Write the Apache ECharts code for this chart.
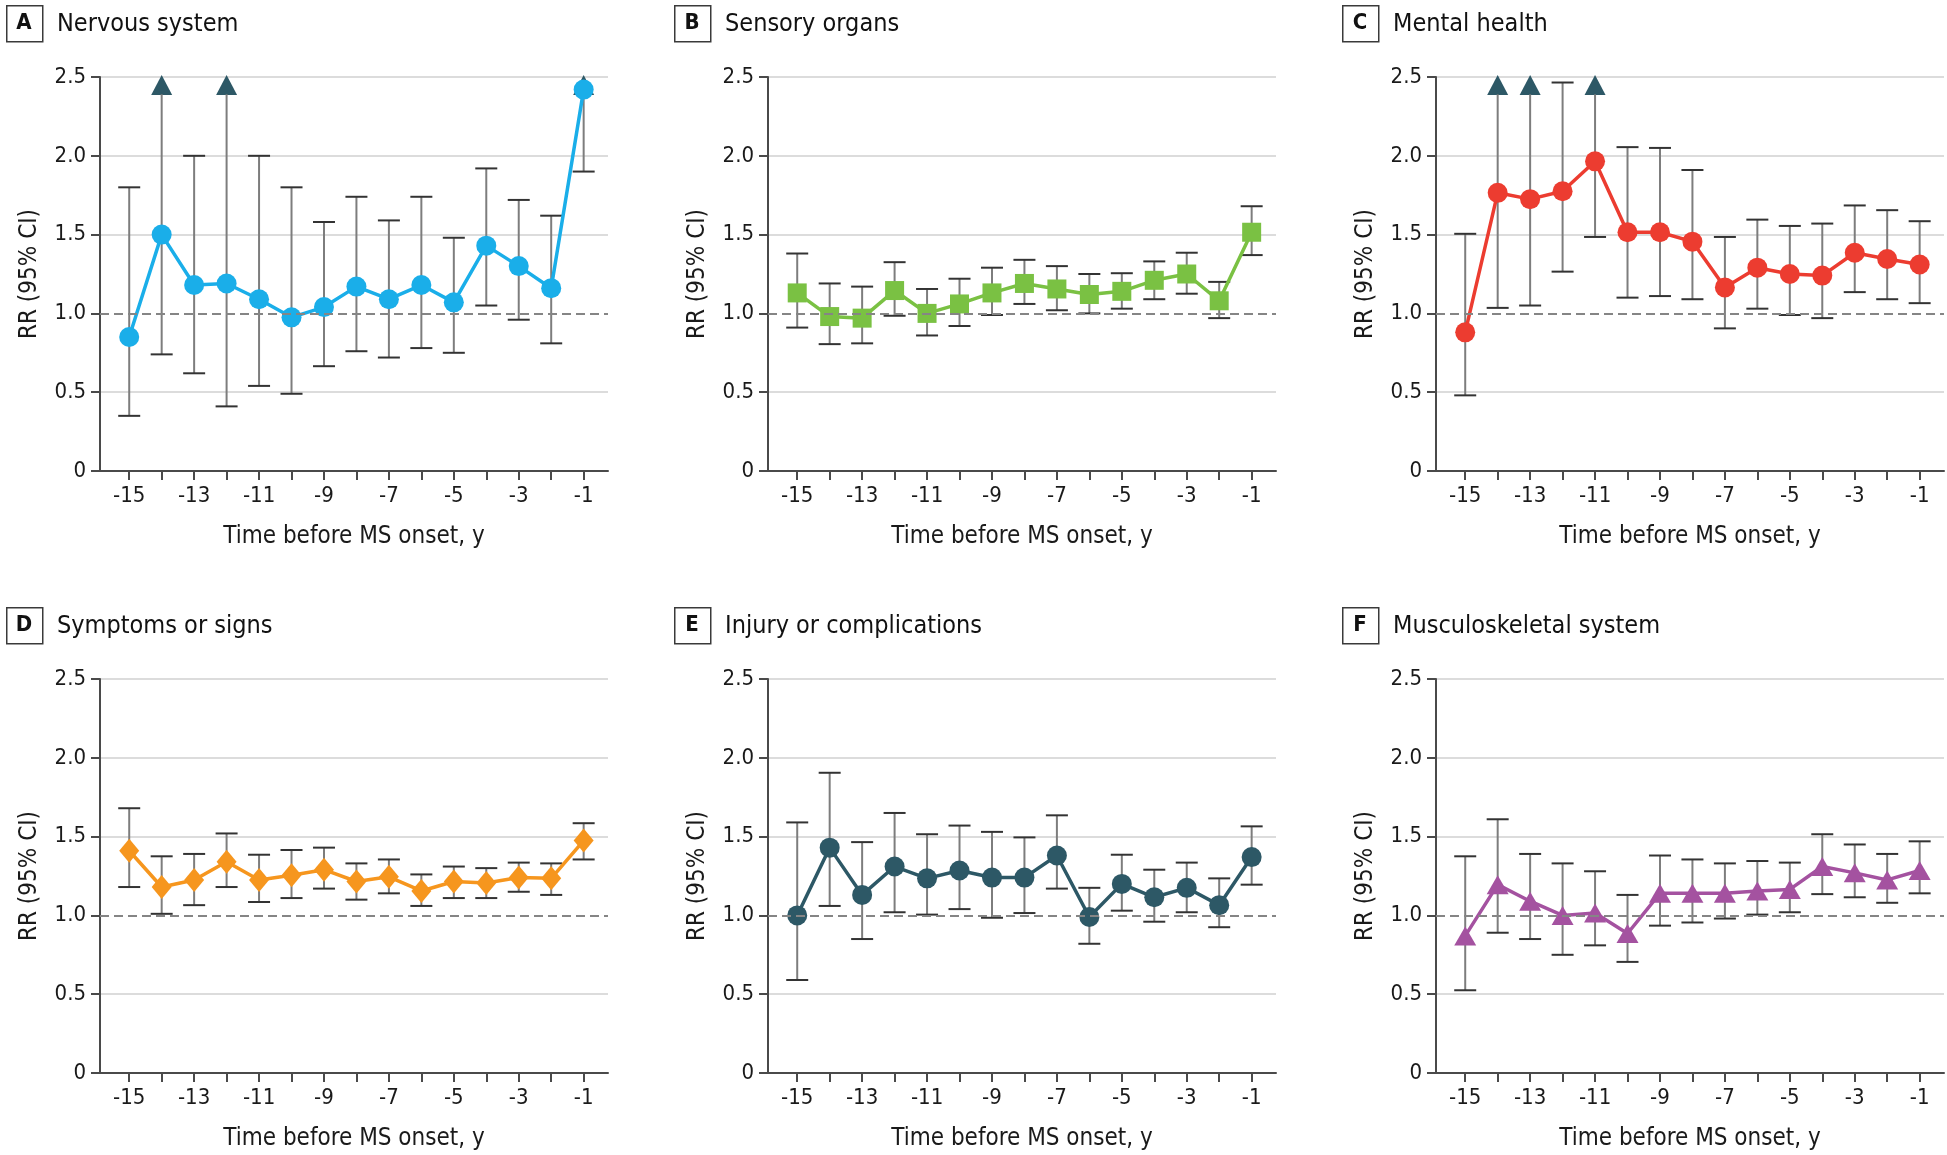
<!DOCTYPE html>
<html>
<head>
<meta charset="utf-8">
<title>RR before MS onset</title>
<script src="https://cdn.jsdelivr.net/npm/echarts@6/dist/echarts.min.js"></script>
<style>
  html, body { margin: 0; padding: 0; background: #fff; }
  #chart { width: 1947px; height: 1155px; }
</style>
</head>
<body>
<div id="chart"></div>
<script>
// years before onset
var years = [-15, -14, -13, -12, -11, -10, -9, -8, -7, -6, -5, -4, -3, -2, -1];
var labelYears = [-15, -13, -11, -9, -7, -5, -3, -1];

// RR, lower and upper 95% CI (null upper = off the scale, drawn as arrow)
var nervousRR   = [0.85, 1.50, 1.18, 1.19, 1.09, 0.975, 1.04, 1.17, 1.09, 1.18, 1.07, 1.43, 1.30, 1.16, 2.42];
var nervousLow  = [0.35, 0.74, 0.62, 0.41, 0.54, 0.49, 0.665, 0.76, 0.72, 0.78, 0.75, 1.05, 0.96, 0.81, 1.90];
var nervousHigh = [1.80, null, 2.00, null, 2.00, 1.80, 1.58, 1.74, 1.59, 1.74, 1.48, 1.92, 1.72, 1.62, null];

var sensoryRR   = [1.13, 0.98, 0.97, 1.145, 1.00, 1.06, 1.13, 1.19, 1.155, 1.12, 1.14, 1.21, 1.25, 1.08, 1.515];
var sensoryLow  = [0.91, 0.805, 0.81, 0.985, 0.86, 0.92, 0.99, 1.06, 1.02, 1.00, 1.03, 1.09, 1.125, 0.97, 1.37];
var sensoryHigh = [1.38, 1.19, 1.17, 1.325, 1.155, 1.22, 1.29, 1.34, 1.30, 1.25, 1.255, 1.33, 1.385, 1.20, 1.68];

var mentalRR   = [0.88, 1.765, 1.725, 1.775, 1.965, 1.515, 1.515, 1.455, 1.165, 1.29, 1.25, 1.24, 1.385, 1.345, 1.31];
var mentalLow  = [0.48, 1.035, 1.05, 1.265, 1.485, 1.10, 1.11, 1.09, 0.905, 1.03, 0.99, 0.97, 1.135, 1.09, 1.065];
var mentalHigh = [1.505, null, null, 2.465, null, 2.055, 2.05, 1.91, 1.485, 1.595, 1.555, 1.57, 1.685, 1.655, 1.585];

var symptomsRR   = [1.41, 1.18, 1.225, 1.34, 1.225, 1.255, 1.29, 1.215, 1.245, 1.155, 1.215, 1.205, 1.24, 1.235, 1.475];
var symptomsLow  = [1.18, 1.01, 1.065, 1.18, 1.085, 1.11, 1.17, 1.10, 1.14, 1.06, 1.11, 1.11, 1.15, 1.13, 1.355];
var symptomsHigh = [1.68, 1.375, 1.39, 1.52, 1.385, 1.415, 1.43, 1.33, 1.355, 1.26, 1.31, 1.30, 1.335, 1.33, 1.585];

var injuryRR   = [1.00, 1.43, 1.13, 1.31, 1.235, 1.285, 1.24, 1.24, 1.38, 0.99, 1.20, 1.115, 1.175, 1.065, 1.37];
var injuryLow  = [0.59, 1.06, 0.85, 1.02, 1.005, 1.04, 0.985, 1.015, 1.17, 0.82, 1.03, 0.96, 1.02, 0.925, 1.195];
var injuryHigh = [1.59, 1.905, 1.465, 1.65, 1.515, 1.57, 1.53, 1.495, 1.635, 1.175, 1.385, 1.29, 1.335, 1.235, 1.565];

var muscRR   = [0.87, 1.195, 1.09, 1.00, 1.015, 0.885, 1.14, 1.14, 1.14, 1.155, 1.165, 1.31, 1.27, 1.225, 1.285];
var muscLow  = [0.525, 0.89, 0.85, 0.75, 0.81, 0.705, 0.935, 0.955, 0.98, 1.005, 1.02, 1.135, 1.115, 1.08, 1.14];
var muscHigh = [1.375, 1.61, 1.39, 1.33, 1.28, 1.13, 1.38, 1.355, 1.33, 1.345, 1.335, 1.515, 1.45, 1.39, 1.47];

var arrowAt = 2.45;     // where the off-scale arrow sits
var arrowBase = 2.39;   // stem stops at arrow base
var fontFam = "'Liberation Sans Narrow', 'DejaVu Sans Condensed', 'Noto Sans', sans-serif";

var panels = [
    { letter: 'A', name: 'Nervous system', rr: nervousRR, low: nervousLow, high: nervousHigh, color: '#1aaee9', symbol: 'circle', size: 20 },
    { letter: 'B', name: 'Sensory organs', rr: sensoryRR, low: sensoryLow, high: sensoryHigh, color: '#7ac143', symbol: 'rect', size: 19 },
    { letter: 'C', name: 'Mental health', rr: mentalRR, low: mentalLow, high: mentalHigh, color: '#ec3c30', symbol: 'circle', size: 20 },
    { letter: 'D', name: 'Symptoms or signs', rr: symptomsRR, low: symptomsLow, high: symptomsHigh, color: '#f6961e', symbol: 'diamond', size: [20, 24] },
    { letter: 'E', name: 'Injury or complications', rr: injuryRR, low: injuryLow, high: injuryHigh, color: '#2d5866', symbol: 'circle', size: 20 },
    { letter: 'F', name: 'Musculoskeletal system', rr: muscRR, low: muscLow, high: muscHigh, color: '#a452a0', symbol: 'triangle', size: [22, 19] }
];

var gridLefts = [100, 768, 1436];
var gridTops = [77, 679];
var gridW = 508;
var gridH = 394;

function renderErrorBar(params, api) {
    var x = api.value(0);
    var lo = api.coord([x, api.value(1)]);
    var hi = api.coord([x, api.value(2)]);
    var arrow = api.value(3);
    var cap = 11;
    var children = [{
        type: 'line',
        shape: { x1: lo[0], y1: lo[1], x2: hi[0], y2: hi[1] },
        style: { stroke: '#7d7d7d', lineWidth: 2 }
    }, {
        type: 'line',
        shape: { x1: lo[0] - cap, y1: lo[1], x2: lo[0] + cap, y2: lo[1] },
        style: { stroke: '#333', lineWidth: 2 }
    }];
    if (!arrow) {
        children.push({
            type: 'line',
            shape: { x1: hi[0] - cap, y1: hi[1], x2: hi[0] + cap, y2: hi[1] },
            style: { stroke: '#333', lineWidth: 2 }
        });
    }
    return { type: 'group', children: children };
}

var option = {
    animation: false,
    textStyle: { fontFamily: fontFam },
    grid: [],
    xAxis: [],
    yAxis: [],
    series: [],
    graphic: []
};

panels.forEach(function (p, i) {
    var left = gridLefts[i % 3];
    var top = gridTops[Math.floor(i / 3)];

    option.grid.push({ left: left, top: top, width: gridW, height: gridH, containLabel: false });

    option.xAxis.push({
        gridIndex: i,
        type: 'value',
        min: -15.9,
        max: -0.25,
        axisLine: { show: true, lineStyle: { color: '#4a4a4a', width: 2 } },
        axisTick: { show: true, customValues: years, length: 9, lineStyle: { color: '#4a4a4a', width: 2 } },
        axisLabel: { customValues: labelYears, margin: 14, fontSize: 22, color: '#1a1a1a', fontFamily: fontFam },
        splitLine: { show: false },
        name: 'Time before MS onset, y',
        nameLocation: 'middle',
        nameGap: 54,
        nameTextStyle: { fontSize: 24, color: '#1a1a1a', fontFamily: fontFam }
    });

    option.yAxis.push({
        gridIndex: i,
        type: 'value',
        min: 0,
        max: 2.5,
        interval: 0.5,
        axisLine: { show: true, lineStyle: { color: '#4a4a4a', width: 2 } },
        axisTick: { show: true, length: 9, lineStyle: { color: '#4a4a4a', width: 2 } },
        axisLabel: {
            margin: 14, fontSize: 22, color: '#1a1a1a', fontFamily: fontFam,
            formatter: function (v) { return v === 0 ? '0' : v.toFixed(1); }
        },
        splitLine: { show: true, lineStyle: { color: ['#dcdcdc', '#dcdcdc', 'rgba(0,0,0,0)', '#dcdcdc', '#dcdcdc', '#dcdcdc'], width: 2 } },
        name: 'RR (95% CI)',
        nameLocation: 'middle',
        nameGap: 58,
        nameTextStyle: { fontSize: 24, color: '#1a1a1a', fontFamily: fontFam }
    });

    var barData = [];
    var arrowData = [];
    years.forEach(function (yr, k) {
        var off = p.high[k] === null;
        barData.push([yr, p.low[k], off ? arrowBase : p.high[k], off ? 1 : 0]);
        if (off) arrowData.push([yr, arrowAt]);
    });

    // off-scale arrows
    option.series.push({
        type: 'scatter',
        xAxisIndex: i,
        yAxisIndex: i,
        data: arrowData,
        symbol: 'triangle',
        symbolSize: [21, 20],
        itemStyle: { color: '#2d5866', opacity: 1 },
        silent: true,
        z: 1
    });

    // error bars + reference line at 1
    option.series.push({
        type: 'custom',
        xAxisIndex: i,
        yAxisIndex: i,
        data: barData,
        encode: { x: 0, y: [1, 2] },
        renderItem: renderErrorBar,
        silent: true,
        z: 2,
        markLine: {
            silent: true,
            symbol: 'none',
            label: { show: false },
            lineStyle: { type: [9, 5], color: '#858585', width: 2 },
            data: [{ yAxis: 1 }]
        }
    });

    option.series.push({
        type: 'line',
        xAxisIndex: i,
        yAxisIndex: i,
        data: years.map(function (yr, k) { return [yr, p.rr[k]]; }),
        symbol: p.symbol,
        symbolSize: p.size,
        itemStyle: { color: p.color, opacity: 1 },
        lineStyle: { color: p.color, width: 3.5 },
        z: 3
    });

    // panel heading: boxed letter + title
    option.graphic.push({
        type: 'rect',
        left: left - 94,
        top: top - 72,
        shape: { width: 36, height: 36 },
        style: { fill: '#fff', stroke: '#3a3a3a', lineWidth: 1.5 }
    });
    option.graphic.push({
        type: 'text',
        x: left - 76,
        y: top - 54,
        style: {
            text: p.letter, fill: '#111', font: 'bold 22px ' + fontFam,
            textAlign: 'center', textVerticalAlign: 'middle'
        }
    });
    option.graphic.push({
        type: 'text',
        x: left - 43,
        y: top - 53,
        style: {
            text: p.name, fill: '#111', font: '25px ' + fontFam,
            textAlign: 'left', textVerticalAlign: 'middle'
        }
    });
});

var chartDom = document.getElementById('chart');
var myChart = echarts.init(chartDom);
myChart.setOption(option);
</script>
</body>
</html>
